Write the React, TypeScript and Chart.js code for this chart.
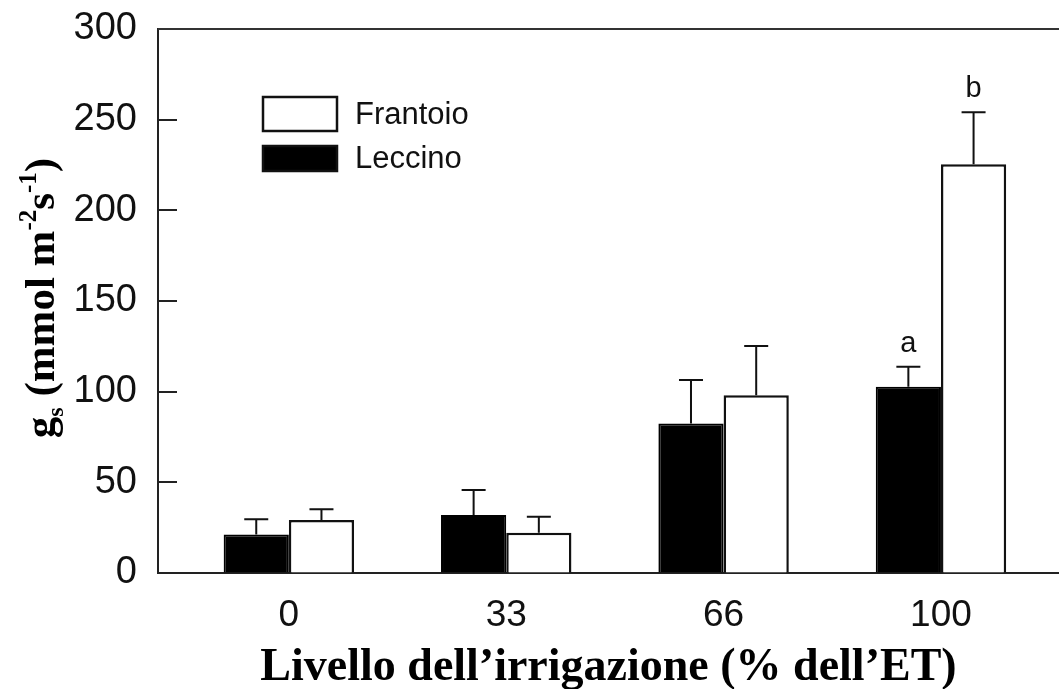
import React, { useEffect, useRef } from 'react';
import { Chart, registerables } from 'chart.js';

Chart.register(...registerables);

// ---- data ----
const categories = ['0', '33', '66', '100'];
const categoryIndex = [0, 1, 2, 3];
const leccino = [21.3, 32.0, 82.5, 102.7];
const leccinoErr = [8.3, 13.8, 23.9, 11.1];
const frantoio = [29.2, 22.2, 98.0, 225.4];
const frantoioErr = [5.9, 8.8, 27.2, 28.7];
const leccinoLetters = ['', '', '', 'a'];
const frantoioLetters = ['', '', '', 'b'];
const yTickValues = [0, 50, 100, 150, 200, 250, 300];
const xTitle = 'Livello dell\u2019irrigazione (% dell\u2019ET)';

const SANS = '"Liberation Sans", Arial, Helvetica, sans-serif';
const SERIF = '"Liberation Serif", "Times New Roman", serif';

const errorPlugin = {
  id: 'errorBarsAndLetters',
  afterDatasetsDraw(chart: any) {
    const { ctx } = chart;
    const y = chart.scales.y;
    const errs = [leccinoErr, frantoioErr];
    const letters = [leccinoLetters, frantoioLetters];
    chart.data.datasets.forEach((ds: any, di: number) => {
      const meta = chart.getDatasetMeta(di);
      meta.data.forEach((bar: any, i: number) => {
        const v = ds.data[i].y;
        const top = y.getPixelForValue(v);
        const capY = y.getPixelForValue(v + errs[di][i]);
        ctx.save();
        ctx.strokeStyle = '#111';
        ctx.lineWidth = 2;
        ctx.beginPath();
        ctx.moveTo(bar.x, top);
        ctx.lineTo(bar.x, capY);
        ctx.moveTo(bar.x - 12, capY);
        ctx.lineTo(bar.x + 12, capY);
        ctx.stroke();
        const letter = letters[di][i];
        if (letter) {
          ctx.fillStyle = '#111';
          ctx.font = `29px ${SANS}`;
          ctx.textAlign = 'center';
          ctx.textBaseline = 'middle';
          ctx.fillText(letter, bar.x, capY - 23);
        }
        ctx.restore();
      });
    });
  },
};

const framePlugin = {
  id: 'frameAndTitles',
  afterDraw(chart: any) {
    const { ctx, chartArea } = chart;
    const y = chart.scales.y;
    ctx.save();
    // top frame line
    ctx.strokeStyle = '#333';
    ctx.lineWidth = 2;
    ctx.beginPath();
    ctx.moveTo(chartArea.left, chartArea.top);
    ctx.lineTo(chartArea.right, chartArea.top);
    ctx.stroke();
    // inward y ticks
    ctx.strokeStyle = '#222';
    y.ticks.forEach((t: any) => {
      if (t.value <= y.min || t.value >= y.max) return;
      const py = Math.round(y.getPixelForValue(t.value));
      ctx.beginPath();
      ctx.moveTo(chartArea.left, py);
      ctx.lineTo(chartArea.left + 19, py);
      ctx.stroke();
    });

    // legend (Frantoio first, then Leccino)
    const items = [...chart.data.datasets].reverse();
    const boxes = [
      { top: 97, h: 34 },
      { top: 146, h: 25 },
    ];
    items.forEach((ds: any, k: number) => {
      const b = boxes[k];
      ctx.fillStyle = ds.backgroundColor;
      ctx.fillRect(263, b.top, 74, b.h);
      ctx.strokeStyle = '#111';
      ctx.lineWidth = 2.5;
      ctx.strokeRect(263, b.top, 74, b.h);
      ctx.fillStyle = '#111';
      ctx.font = `31px ${SANS}`;
      ctx.textAlign = 'left';
      ctx.textBaseline = 'middle';
      ctx.fillText(ds.label, 355, b.top + b.h / 2 + 1);
    });

    // x title
    ctx.fillStyle = '#000';
    ctx.font = `bold 46px ${SERIF}`;
    ctx.textAlign = 'center';
    ctx.textBaseline = 'alphabetic';
    ctx.fillText(xTitle, (chartArea.left + chartArea.right) / 2, 680);

    // y title with sub/superscripts
    const runs = [
      { t: 'g', s: 43, dy: 0 },
      { t: 's', s: 24, dy: 9 },
      { t: ' (mmol m', s: 43, dy: 0 },
      { t: '-2', s: 25, dy: -18 },
      { t: 's', s: 43, dy: 0 },
      { t: '-1', s: 25, dy: -18 },
      { t: ')', s: 43, dy: 0 },
    ];
    let total = 0;
    runs.forEach((r) => {
      ctx.font = `bold ${r.s}px ${SERIF}`;
      total += ctx.measureText(r.t).width;
    });
    ctx.translate(40, 298);
    ctx.rotate(-Math.PI / 2);
    ctx.textAlign = 'left';
    let x = -total / 2;
    runs.forEach((r) => {
      ctx.font = `bold ${r.s}px ${SERIF}`;
      ctx.fillText(r.t, x, 14 + r.dy);
      x += ctx.measureText(r.t).width;
    });
    ctx.restore();
  },
};

export default function App() {
  const ref = useRef<HTMLCanvasElement | null>(null);
  useEffect(() => {
    if (!ref.current) return;
    const chart = new Chart(ref.current, {
      type: 'bar',
      data: {
        datasets: [
          {
            label: 'Leccino',
            data: categoryIndex.map((x, i) => ({ x, y: leccino[i] })),
            backgroundColor: '#000000',
            borderColor: '#000000',
            borderWidth: 2,
            categoryPercentage: 0.6,
            barPercentage: 1.0,
          },
          {
            label: 'Frantoio',
            data: categoryIndex.map((x, i) => ({ x, y: frantoio[i] })),
            backgroundColor: '#ffffff',
            borderColor: '#111111',
            borderWidth: 2.5,
            categoryPercentage: 0.6,
            barPercentage: 1.0,
          },
        ],
      },
      options: {
        responsive: false,
        animation: false,
        layout: { padding: { top: 29, right: 0, left: 0, bottom: 0 } },
        plugins: {
          legend: { display: false },
          tooltip: { enabled: false },
        },
        scales: {
          x: {
            type: 'linear',
            min: -0.602,
            max: 3.543,
            offset: false,
            grid: { display: true, drawOnChartArea: false, drawTicks: false, offset: false },
            border: { display: true, color: '#222', width: 2 },
            afterBuildTicks: (scale: any) => {
              scale.ticks = categoryIndex.map((v) => ({ value: v }));
            },
            afterFit: (scale: any) => {
              scale.height = 116;
              scale.paddingLeft = 0;
              scale.paddingRight = 0;
            },
            ticks: {
              autoSkip: false,
              maxRotation: 0,
              padding: 21,
              color: '#111',
              font: { family: SANS, size: 37 },
              callback: (v: any) => categories[Math.round(Number(v))] ?? '',
            },
          },
          y: {
            min: 0,
            max: 300,
            grid: { display: true, drawOnChartArea: false, drawTicks: false },
            border: { display: true, color: '#222', width: 2 },
            afterBuildTicks: (scale: any) => {
              scale.ticks = yTickValues.map((v) => ({ value: v }));
            },
            afterFit: (scale: any) => {
              scale.width = 158;
              scale.paddingTop = 0;
              scale.paddingBottom = 0;
            },
            ticks: {
              padding: 21,
              color: '#111',
              font: { family: SANS, size: 38 },
            },
          },
        },
      },
      plugins: [errorPlugin, framePlugin],
    } as any);
    return () => chart.destroy();
  }, []);
  return (
    <div style={{ position: 'fixed', left: 0, top: 0, width: 1059, height: 689, background: '#fff' }}>
      <canvas ref={ref} width={1059} height={689} />
    </div>
  );
}
